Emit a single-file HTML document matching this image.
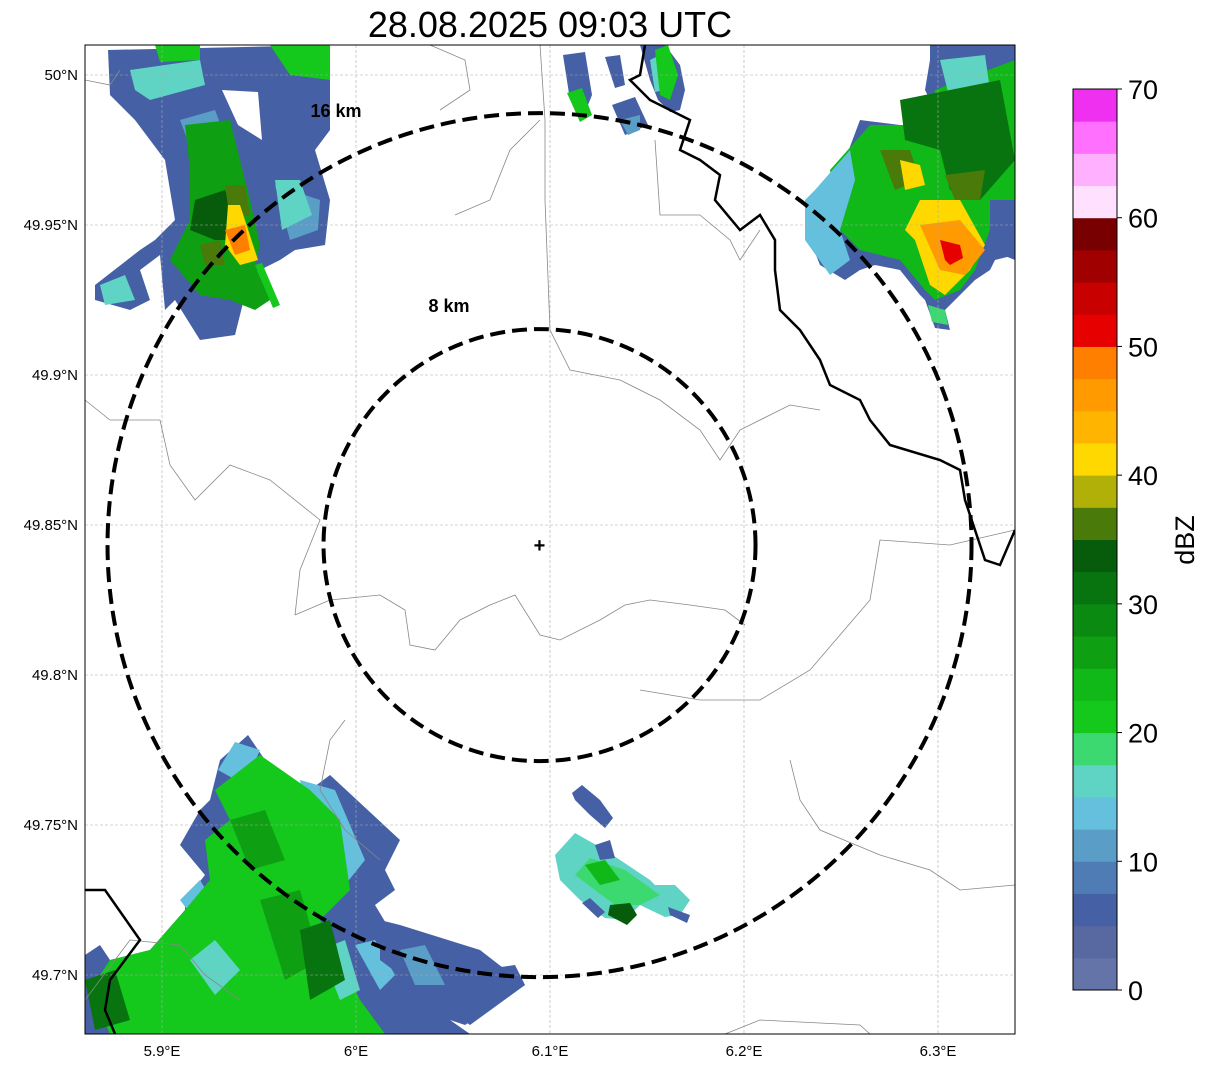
<!DOCTYPE html>
<html><head><meta charset="utf-8"><style>
html,body{margin:0;padding:0;background:#fff;}
body{width:1207px;height:1069px;overflow:hidden;font-family:"Liberation Sans",sans-serif;}
</style></head><body>
<svg id="chart" width="1207" height="1069" xmlns="http://www.w3.org/2000/svg" font-family="Liberation Sans, sans-serif"></svg>
<script>
const lonTicks=[5.9,6.0,6.1,6.2,6.3];
const lonLabels=["5.9°E","6°E","6.1°E","6.2°E","6.3°E"];
const latTicks=[50.0,49.95,49.9,49.85,49.8,49.75,49.7];
const latLabels=["50°N","49.95°N","49.9°N","49.85°N","49.8°N","49.75°N","49.7°N"];
const cbColors=["#6474a8","#5868a0","#4560a4","#4f7cb4","#5a9ec8","#64c0dc","#60d4c4","#3cd870","#14c81c","#10b818","#0ea012","#0a8a10","#087410","#065c0a","#4a7a0a","#b0b008","#ffd800","#ffb400","#ff9a00","#ff8000","#e60000","#c80000","#a00000","#780000","#ffe0ff","#ffb0ff","#ff70ff","#f030f0"];
const cbTicks=[0,10,20,30,40,50,60,70];
const ringsKm=[8,16];
const ringLabelPos={8:[449,312],16:[336,117]};
const radarLon=6.0946, radarLat=49.8433;
const title="28.08.2025 09:03 UTC";
// echo shapes: [dbz, points(px)]; dbz<0 means blank gap
const echoes=[
// top-left
[7,[[108,50],[330,45],[330,130],[315,150],[330,200],[325,245],[295,250],[280,260],[250,275],[235,335],[200,340],[175,300],[165,310],[160,255],[140,270],[150,300],[130,310],[95,300],[95,285],[140,250],[155,240],[175,220],[165,160],[135,120],[110,95]]],
[10,[[180,120],[215,110],[230,150],[195,160]]],
[10,[[275,185],[320,200],[318,230],[290,240]]],
[-1,[[222,90],[258,92],[262,140],[238,125]]],
[15,[[130,70],[200,60],[205,85],[150,100],[135,90]]],
[15,[[275,180],[300,180],[312,215],[282,230]]],
[15,[[100,285],[125,275],[135,300],[105,305]]],
[22,[[155,45],[200,45],[200,60],[160,62]]],
[22,[[270,45],[330,45],[330,80],[290,75]]],
[25,[[185,125],[230,120],[250,200],[260,245],[255,265],[270,300],[255,310],[230,300],[200,295],[170,260],[190,220],[190,170]]],
[33,[[195,200],[225,190],[245,240],[215,240],[190,230]]],
[37,[[225,185],[245,185],[250,215],[230,220]]],
[37,[[200,245],[220,240],[225,265],[205,265]]],
[41,[[228,205],[240,205],[258,260],[240,265],[225,245]]],
[48,[[225,230],[245,225],[250,250],[235,255]]],
[22,[[255,265],[262,263],[280,305],[273,308]]],
// top middle
[7,[[563,55],[585,52],[592,95],[588,105],[570,100]]],
[22,[[567,93],[582,88],[592,115],[580,122]]],
[7,[[605,57],[620,55],[625,85],[615,88]]],
[7,[[612,105],[635,97],[648,125],[625,135]]],
[12,[[620,120],[640,115],[640,130],[628,135]]],
[7,[[640,45],[665,45],[680,65],[685,90],[680,110],[670,112],[658,100],[650,80]]],
[17,[[650,60],[660,55],[665,90],[655,92]]],
[22,[[655,50],[668,45],[678,75],[670,100],[660,95]]],
// top right
[7,[[930,45],[1015,45],[1015,255],[995,260],[990,270],[975,280],[960,295],[945,310],[950,330],[935,328],[925,300],[920,295],[900,270],[875,265],[860,270],[845,280],[820,265],[810,240],[810,210],[830,200],[860,120],[900,125],[925,125],[935,110],[925,90],[930,60]]],
[24,[[935,90],[1015,60],[1015,200],[990,230],[975,270],[960,290],[935,300],[925,290],[900,260],[860,250],[840,230],[830,170],[870,125],[930,125]]],
[17,[[940,60],[985,55],[990,90],[950,100]]],
[13,[[815,190],[850,150],[855,180],[840,230],[850,260],[830,275],[805,240],[805,200]]],
[30,[[900,100],[1000,80],[1015,160],[980,200],[950,190],[940,150],[905,140]]],
[37,[[880,150],[910,150],[920,180],[895,190]]],
[37,[[945,175],[985,170],[980,200],[955,200]]],
[41,[[900,160],[920,165],[925,185],[905,190]]],
[41,[[920,200],[960,200],[985,245],[970,270],[945,295],[930,285],[915,240],[905,230]]],
[46,[[920,225],[960,220],[985,250],[965,275],[940,270]]],
[52,[[940,240],[960,245],[963,258],[950,265],[945,260]]],
[7,[[990,200],[1015,200],[1015,260],[990,250]]],
[18,[[928,305],[945,310],[948,325],[932,322]]],
// bottom left
[7,[[220,760],[248,735],[265,760],[310,790],[330,775],[400,840],[385,870],[395,890],[375,905],[390,930],[400,930],[480,970],[515,965],[525,985],[465,1025],[450,1020],[470,1034],[85,1034],[85,955],[100,945],[110,960],[150,950],[185,910],[185,900],[205,875],[180,845],[200,810],[210,800]]],
[13,[[300,780],[335,790],[365,860],[345,885],[310,840]]],
[13,[[235,742],[260,750],[245,785],[218,770]]],
[13,[[180,900],[200,880],[215,905],[195,920]]],
[22,[[215,790],[260,755],[310,790],[340,820],[350,890],[320,920],[340,960],[360,1000],[385,1034],[110,1034],[90,990],[110,960],[150,950],[185,910],[210,880],[205,840],[230,820]]],
[17,[[190,960],[215,940],[240,970],[215,995]]],
[17,[[320,950],[345,940],[360,990],[340,1000]]],
[27,[[230,820],[265,810],[285,860],[250,870]]],
[27,[[260,900],[300,890],[320,960],[285,980]]],
[30,[[300,930],[330,920],[345,980],[310,1000]]],
[32,[[85,980],[115,970],[130,1020],[95,1030]]],
[13,[[355,945],[375,940],[395,975],[380,990]]],
[7,[[380,920],[400,925],[480,950],[525,985],[470,1025],[420,990],[380,960]]],
[12,[[400,950],[425,945],[445,985],[415,985]]],
// bottom middle
[7,[[572,793],[582,785],[600,800],[613,818],[605,828],[590,815],[575,800]]],
[15,[[555,855],[575,833],[605,850],[650,880],[655,885],[675,885],[690,900],[680,915],[665,917],[640,905],[625,920],[605,918],[580,900],[560,880]]],
[19,[[575,875],[590,858],[625,870],[660,895],[640,905],[615,905]]],
[23,[[585,865],[605,860],[620,880],[600,885]]],
[33,[[610,905],[630,903],[637,915],[627,925],[608,915]]],
[7,[[668,907],[690,915],[687,923],[670,915]]],
[7,[[595,845],[610,840],[615,858],[600,860]]],
[7,[[582,903],[590,898],[605,912],[598,918]]]
];
const thinBorders=[
[[85,400],[110,420],[160,420],[170,465],[195,500],[230,465],[270,480],[320,520],[300,570],[295,615]],
[[295,615],[330,600],[380,595],[405,610],[410,645],[435,650],[460,620],[490,605],[515,595],[540,635],[560,640],[600,620],[625,605],[650,600],[690,605],[725,610],[745,625]],
[[540,45],[545,120],[545,200],[550,330],[570,370],[620,380],[660,400],[700,430],[720,460],[740,430],[790,405],[820,410]],
[[1015,530],[950,545],[880,540],[870,600],[810,670],[760,700],[700,700],[640,690]],
[[85,1000],[130,940],[180,945],[205,975],[240,1000]],
[[1015,885],[960,890],[930,870],[880,855],[820,830],[800,800],[790,760]],
[[455,215],[490,200],[510,150],[540,120]],
[[430,45],[465,60],[470,90],[440,110]],
[[655,140],[660,215],[700,215],[730,240],[740,260],[760,230]],
[[725,1034],[760,1020],[860,1025],[870,1034]],
[[85,80],[110,85],[120,70]],
[[345,720],[330,740],[320,790],[345,830],[380,860]]
];
const thickBorders=[
[[645,45],[640,75],[630,80],[650,100],[690,120],[680,150],[700,160],[720,175],[715,200],[740,230],[760,215],[775,240],[775,270],[780,310],[800,330],[820,360],[830,385],[860,400],[870,420],[890,445],[940,460],[960,470],[965,500],[975,530],[985,560],[1000,565],[1015,530]],
[[85,890],[105,890],[140,940],[110,980],[105,1010],[115,1034]]
];
const NS="http://www.w3.org/2000/svg";
const svg=document.getElementById('chart');
const L=85,T=45,R=1015,B=1034;
function X(lon){return 162+(lon-5.9)*1940;}
function Y(lat){return 75+(50-lat)*3000;}
function el(tag,attrs,parent){const e=document.createElementNS(NS,tag);for(const k in attrs)e.setAttribute(k,attrs[k]);(parent||svg).appendChild(e);return e;}
function colorFor(v){if(v<0)return '#ffffff';return cbColors[Math.max(0,Math.min(27,Math.floor(v/2.5)))];}
const defs=el('defs',{});
const cp=el('clipPath',{id:'clip'},defs);el('rect',{x:L,y:T,width:R-L,height:B-T},cp);
const t=el('text',{x:550,y:37,'text-anchor':'middle','font-size':36});t.textContent=title;


const plot=el('g',{'clip-path':'url(#clip)'});


echoes.forEach(function(e){
 const p=el('polygon',{points:e[1].map(q=>q.join(',')).join(' '),fill:colorFor(e[0])},plot);
 
 
});
lonTicks.forEach(function(v){const l=el('line',{x1:X(v),x2:X(v),y1:T,y2:B,stroke:'#aaa','stroke-width':0.6,'stroke-dasharray':'3,2'},plot);
 
 });
latTicks.forEach(function(v){const l=el('line',{x1:L,x2:R,y1:Y(v),y2:Y(v),stroke:'#aaa','stroke-width':0.6,'stroke-dasharray':'3,2'},plot);
 
 });
thinBorders.forEach(function(b){const p=el('polyline',{points:b.map(q=>q.join(',')).join(' '),fill:'none',stroke:'#888','stroke-width':0.8},plot);
 
 });
thickBorders.forEach(function(b){const p=el('polyline',{points:b.map(q=>q.join(',')).join(' '),fill:'none',stroke:'#000','stroke-width':2.5},plot);
 
 });
const cx=X(radarLon),cy=Y(radarLat);
ringsKm.forEach(function(km){
 const r=km*27;
 const c=el('circle',{cx:cx,cy:cy,r:r,fill:'none',stroke:'#000','stroke-width':4,'stroke-dasharray':'15,7'},plot);
 
 
 const pos=ringLabelPos[km];
 const tx=el('text',{x:pos[0],y:pos[1],'text-anchor':'middle','font-size':18,'font-weight':'bold'},plot);
 tx.textContent=km+' km';
 
 
});
const mk=el('text',{x:cx,y:cy+7,'text-anchor':'middle','font-size':20,'font-weight':'bold'},plot);mk.textContent='+';


const fr=el('rect',{x:L,y:T,width:R-L,height:B-T,fill:'none',stroke:'#000','stroke-width':1});


lonTicks.forEach(function(v,i){const tx=el('text',{x:X(v),y:1056,'text-anchor':'middle','font-size':15});tx.textContent=lonLabels[i];
 
 });
latTicks.forEach(function(v,i){const tx=el('text',{x:78,y:Y(v)+5,'text-anchor':'end','font-size':15});tx.textContent=latLabels[i];
 
 });
const cbX=1073,cbW=44,cbTop=89,cbBot=990;
const cbH=(cbBot-cbTop)/cbColors.length;
cbColors.forEach(function(c,i){const r=el('rect',{x:cbX,y:cbBot-(i+1)*cbH,width:cbW,height:cbH+0.5,fill:c});
 
 });
el('rect',{x:cbX,y:cbTop,width:cbW,height:cbBot-cbTop,fill:'none',stroke:'#000','stroke-width':1});
cbTicks.forEach(function(v){const y=cbBot-v/70*(cbBot-cbTop);
 el('line',{x1:cbX+cbW,x2:cbX+cbW+5,y1:y,y2:y,stroke:'#000'});
 const tx=el('text',{x:1128,y:y+10,'font-size':27});tx.textContent=v;
 
 });
const lab=el('text',{x:1194,y:540,'text-anchor':'middle','font-size':27,transform:'rotate(-90 1194 540)'});lab.textContent='dBZ';


</script>
</body></html>
